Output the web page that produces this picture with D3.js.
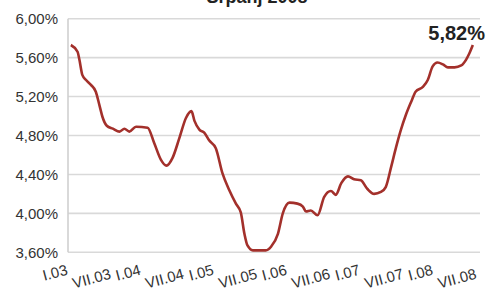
<!DOCTYPE html>
<html>
<head>
<meta charset="utf-8">
<script src="https://cdn.jsdelivr.net/npm/d3@7"></script>
<style>
  body { margin: 0; background: #fff; }
  svg { display: block; font-family: "Liberation Sans", Arial, sans-serif; }
</style>
</head>
<body>
<svg id="chart" width="487" height="289"></svg>
<script>
// months counted from I.03 (0 = siječanj 2003)
let months = [2.6, 3.7, 4.0, 4.5, 5.1, 5.9, 6.7, 7.3, 7.8, 8.5, 9.5, 10.6, 11.4, 12.2, 13.3,
  15.2, 16.3, 17.4, 18.3, 19.3, 20.4, 21.5, 22.4, 22.9, 23.7, 24.5, 25.3, 26.4, 27.5, 28.6,
  29.7, 30.5, 31.1, 31.6, 32.5, 33.5, 34.6, 35.5, 36.6, 37.4, 38.5, 39.8, 40.7, 41.2, 42.0,
  43.1, 44.2, 45.3, 46.1, 47.0, 48.1, 49.1, 50.2, 51.3, 52.4, 53.5, 54.3, 55.2, 56.0, 56.8,
  57.6, 58.5, 59.2, 60.4, 61.2, 62.0, 62.8, 63.7, 64.5, 65.6, 66.7, 67.5, 68.0, 68.6];
let rates = [5.73, 5.66, 5.58, 5.42, 5.37, 5.32, 5.25, 5.11, 4.99, 4.90, 4.87, 4.84, 4.87, 4.84, 4.89,
  4.88, 4.72, 4.55, 4.49, 4.57, 4.77, 4.98, 5.05, 4.95, 4.86, 4.83, 4.75, 4.67, 4.41, 4.24,
  4.10, 4.01, 3.79, 3.67, 3.62, 3.62, 3.62, 3.66, 3.79, 4.00, 4.11, 4.10, 4.07, 4.02, 4.03,
  3.98, 4.17, 4.23, 4.19, 4.31, 4.38, 4.35, 4.34, 4.25, 4.20, 4.22, 4.27, 4.48, 4.68, 4.86,
  5.01, 5.15, 5.25, 5.30, 5.37, 5.51, 5.55, 5.53, 5.50, 5.50, 5.52, 5.58, 5.64, 5.73];

let yTicks = [3.6, 4.0, 4.4, 4.8, 5.2, 5.6, 6.0];
let xTicks = [0, 6, 12, 18, 24, 30, 36, 42, 48, 54, 60, 66];
let xLabels = ['I.03', 'VII.03', 'I.04', 'VII.04', 'I.05', 'VII.05',
  'I.06', 'VII.06', 'I.07', 'VII.07', 'I.08', 'VII.08'];

let title = 'Srpanj 2008';
let lastLabel = '5,82%';

const svg = d3.select('#chart');

const x = d3.scaleLinear().domain([0, 66]).range([55, 457]);
const y = d3.scaleLinear().domain([3.6, 6.0]).range([252.3, 18.7]);
const plotLeft = 68, plotRight = 480;

const fmt = (v) => v.toFixed(2).replace('.', ',') + '%';

// grid
svg.append('g')
  .selectAll('line')
  .data(yTicks)
  .enter()
  .append('line')
  .attr('x1', plotLeft)
  .attr('x2', plotRight)
  .attr('y1', (d) => y(d))
  .attr('y2', (d) => y(d))
  .attr('stroke', '#d9d9d9')
  .attr('stroke-width', 1.6);

svg.append('line')
  .attr('x1', plotLeft).attr('x2', plotLeft)
  .attr('y1', y(6.0)).attr('y2', y(3.6))
  .attr('stroke', '#d0d0d0')
  .attr('stroke-width', 1.6);

// y labels
svg.append('g')
  .selectAll('text')
  .data(yTicks)
  .enter()
  .append('text')
  .attr('x', 58)
  .attr('y', (d) => y(d))
  .attr('dy', '0.36em')
  .attr('text-anchor', 'end')
  .attr('font-size', 15)
  .attr('fill', '#333')
  .text(fmt);

// x labels, slanted like the original
const xl = svg.append('g')
  .selectAll('text')
  .data(xTicks)
  .enter()
  .append('text')
  .attr('text-anchor', 'middle')
  .attr('font-size', 15)
  .attr('fill', '#333')
  .attr('dy', '0.35em')
  .text((d, i) => xLabels[i]);

xl.attr('transform', function (d) {
  let w = this.getComputedTextLength();
  return 'translate(' + x(d) + ',' + (262 + w * 0.42) + ') rotate(-15)';
});

// line
const line = d3.line()
  .x((d, i) => x(months[i]))
  .y((d) => y(d))
  .curve(d3.curveMonotoneX);

svg.append('path')
  .datum(rates)
  .attr('d', line)
  .attr('fill', 'none')
  .attr('stroke', '#a3302b')
  .attr('stroke-width', 2.6)
  .attr('stroke-linejoin', 'round');

// last value
svg.append('text')
  .attr('x', 485)
  .attr('y', 40)
  .attr('text-anchor', 'end')
  .attr('font-size', 20)
  .attr('font-weight', 'bold')
  .attr('fill', '#222')
  .text(lastLabel);

// title (cut off at the top in the original)
svg.append('text')
  .attr('x', 257)
  .attr('y', 3)
  .attr('text-anchor', 'middle')
  .attr('font-size', 18)
  .attr('font-weight', 'bold')
  .attr('fill', '#222')
  .text(title);
</script>
</body>
</html>
